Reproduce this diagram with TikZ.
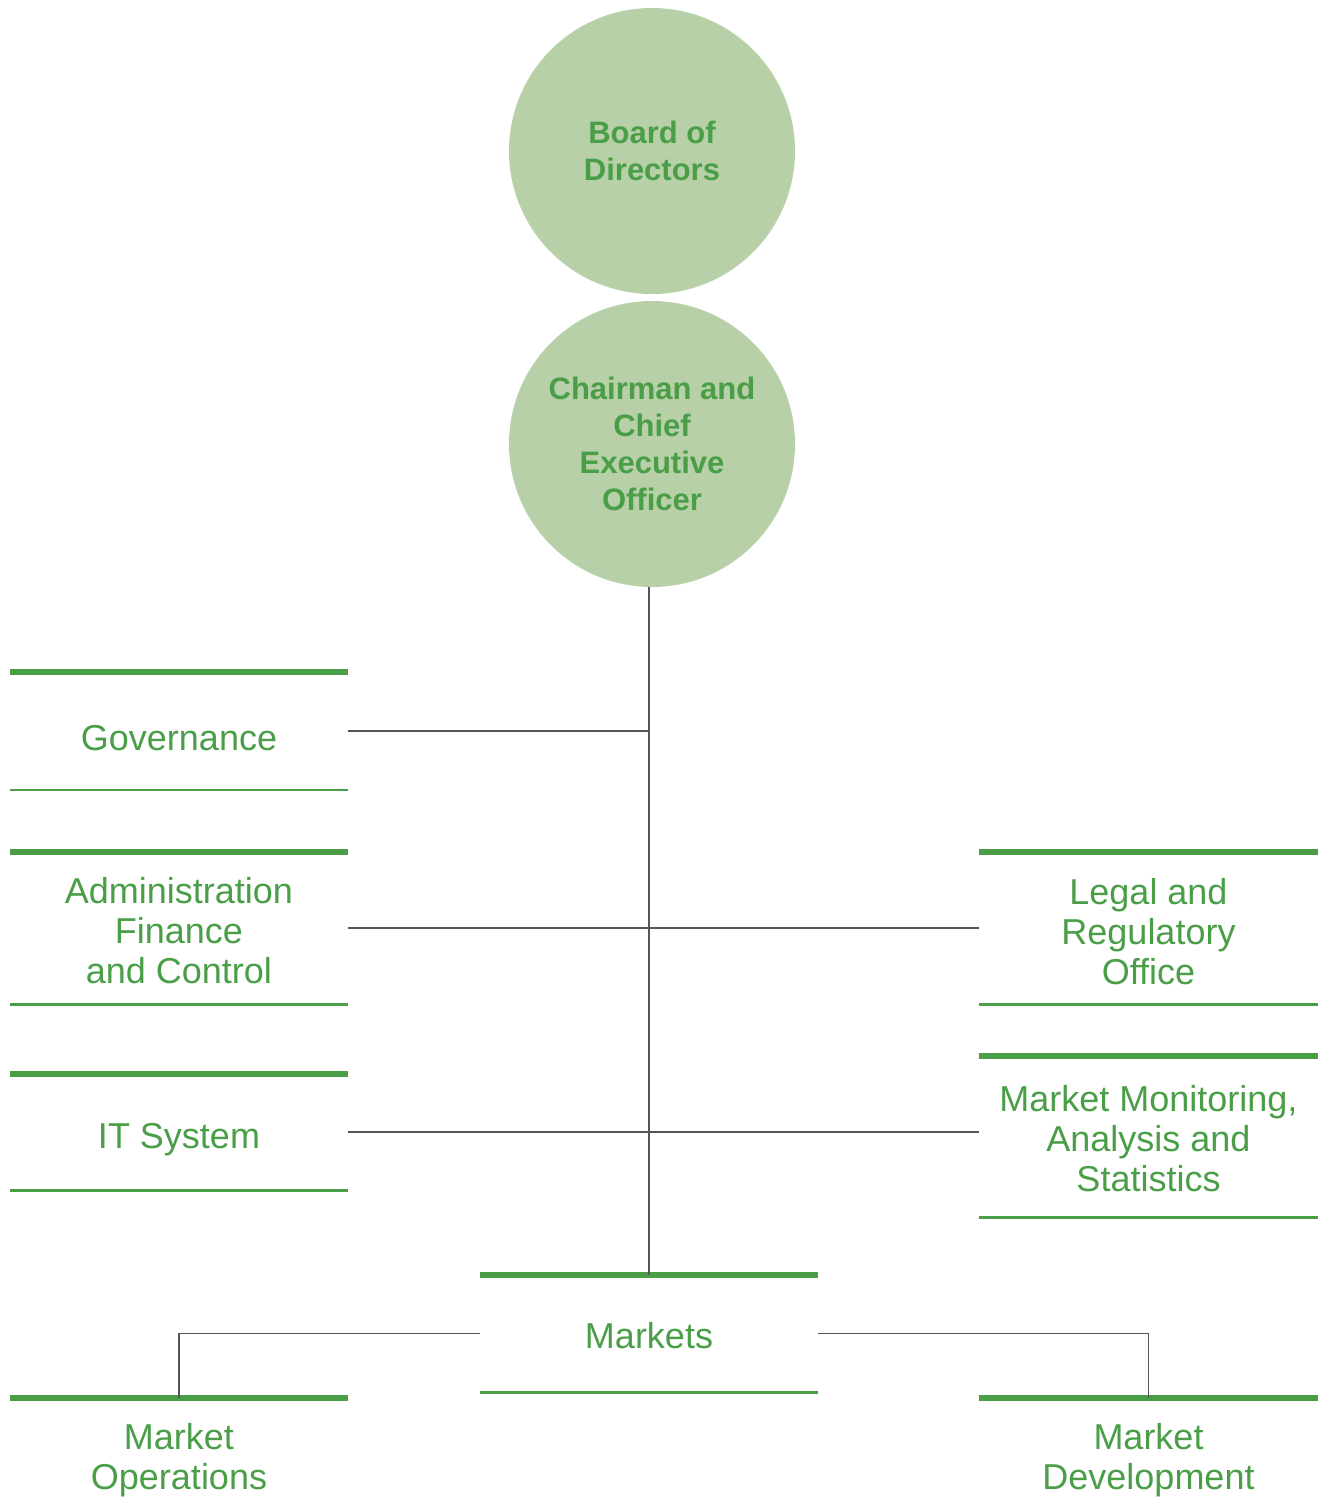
\documentclass[tikz,border=0pt]{standalone}
\usepackage{fontspec}
\setmainfont{Liberation Sans}
\setsansfont{Liberation Sans}
\usepackage{tikz}
\usetikzlibrary{positioning,calc}
\definecolor{orggreen}{HTML}{4A9E47}
\definecolor{orgpale}{HTML}{B7D0A8}
\definecolor{orggray}{HTML}{555555}

\begin{document}
\begin{tikzpicture}[
    x=1pt, y=-1pt,
    font=\sffamily,
    head/.style={circle, fill=orgpale, minimum size=286pt, inner sep=0pt, align=center, text=orggreen, font=\sffamily\bfseries\fontsize{31}{37}\selectfont},
    unit/.style={minimum width=338pt, inner sep=0pt, align=center, text=orggreen, font=\sffamily\fontsize{36}{40}\selectfont},
    topbar/.style={draw=orggreen, line width=6.5pt},
    botbar/.style={draw=orggreen, line width=3pt},
    link/.style={draw=orggray, line width=1.2pt}
]
\useasboundingbox (0,0) rectangle (1324,1512);

% top of the chart
\node[head] (board) at (652,151) {Board of\\Directors};
\node[head] (ceo) at (652,444) {Chairman and\\Chief\\Executive\\Officer};

% staff units
\node[unit, minimum height=118pt, text height=38pt, text depth=0pt] (gov) at (179,731) {Governance};
\node[unit, minimum height=152pt, text height=110pt, text depth=0pt] (admin) at (179,928) {Administration\\Finance\\and Control};
\node[unit, minimum height=116pt, text height=32pt, text depth=0pt] (it) at (179,1132) {IT System};
\node[unit, minimum height=152pt, text height=112pt, text depth=0pt] (legal) at (1148.5,928) {Legal and\\Regulatory\\Office};
\node[unit, minimum height=161pt, text height=109pt, text depth=0pt] (mm) at (1148.5,1136.5) {Market Monitoring,\\Analysis and\\Statistics};

% markets
\node[unit, minimum height=117pt, text height=29pt, text depth=0pt] (markets) at (649,1333.5) {Markets};
\node[unit, minimum height=120pt, text height=71pt, text depth=7.5pt] (ops) at (179,1458) {Market\\Operations};
\node[unit, minimum height=120pt, text height=71pt, text depth=7.5pt] (dev) at (1148.5,1458) {Market\\Development};

\foreach \n in {gov,admin,it,legal,mm,markets,ops,dev}
  \draw[topbar] (\n.north west) -- (\n.north east);
\foreach \n in {admin,it,legal,mm,markets}
  \draw[botbar] (\n.south west) -- (\n.south east);
\draw[botbar, line width=1.6pt] (gov.south west) -- (gov.south east);

\draw[link] (markets.north) -- (markets.north |- ceo.south);
\draw[link] (gov.east) -- (gov.east -| markets.north);
\draw[link] (admin.east) -- (legal.west);
\draw[link] (it.east) -- (it.east -| mm.west);
\draw[link] (markets.west) -| (ops.north);
\draw[link] (markets.east) -| (dev.north);
\end{tikzpicture}
\end{document}
